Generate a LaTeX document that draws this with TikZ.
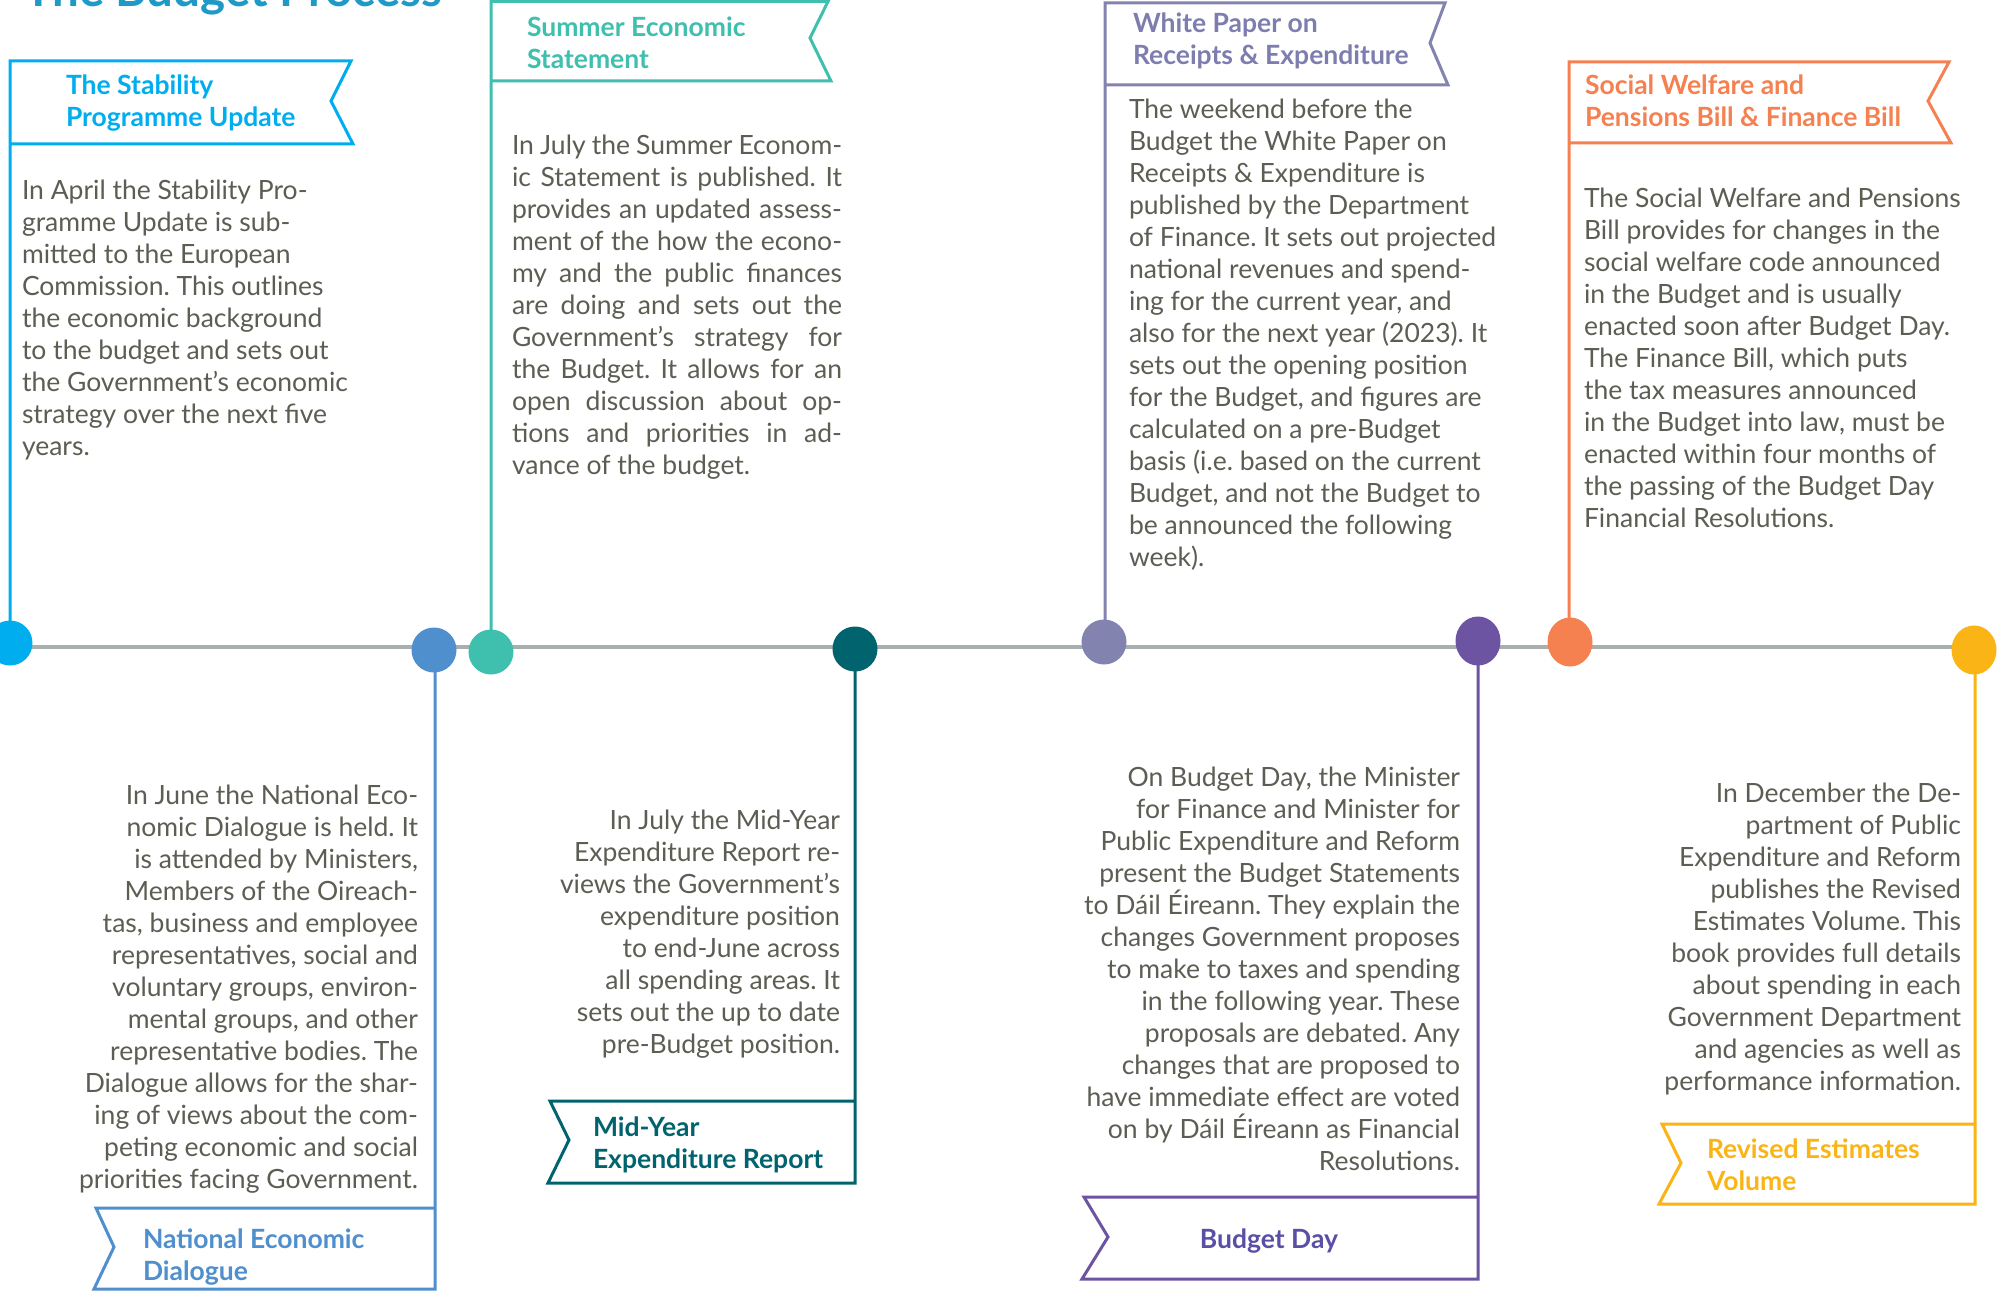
\documentclass[tikz,border=0pt]{standalone}
\usepackage{fontspec}
\setmainfont{Lato}
\definecolor{cStab}{HTML}{00AEEF}
\definecolor{cNed}{HTML}{4F8FCD}
\definecolor{cSum}{HTML}{3FBFAE}
\definecolor{cMid}{HTML}{00636E}
\definecolor{cWp}{HTML}{8383B0}
\definecolor{cWpT}{HTML}{7D7DAF}
\definecolor{cBud}{HTML}{6D54A3}
\definecolor{cBudT}{HTML}{5A4FA5}
\definecolor{cSoc}{HTML}{F58150}
\definecolor{cRev}{HTML}{FBB415}
\definecolor{cTitle}{HTML}{1F99C6}
\definecolor{bodygray}{HTML}{5D5D54}
\definecolor{linegray}{HTML}{A9AEAE}
\newcommand\bodyfnt{\fontsize{26.5}{32}\selectfont\frenchspacing}
\newcommand\headfnt{\fontsize{26.5}{32}\selectfont\bfseries}
\newcommand\jl[1]{\makebox[330pt][s]{#1}}
\tikzset{
  body/.style={inner sep=0pt, outer sep=0pt, font=\bodyfnt, text=bodygray},
  head/.style={inner sep=0pt, outer sep=0pt, font=\headfnt, align=left, text=#1},
  flagline/.style={line width=3pt, line join=miter, draw=#1},
  tdot/.style={circle, minimum size=45pt, inner sep=0pt, fill=#1},
  tell/.style={ellipse, minimum width=45pt, minimum height=49pt, inner sep=0pt, fill=#1},
  timeline/.style={line width=4.5pt, draw=linegray}
}
\usetikzlibrary{shapes.geometric}
\begin{document}
\begin{tikzpicture}[x=1pt,y=-1pt]
\useasboundingbox (0,0) rectangle (1998,1292);
\clip (0,0) rectangle (1998,1292);
\fill[white] (0,0) rectangle (1998,1292);

% title (cut off at top, as in the reference)
\node[inner sep=0pt, anchor=base west, font=\fontsize{47.5}{50}\selectfont\bfseries, text=cTitle] (title) at (24,7) {The Budget Process};

% circle centres
\coordinate (p1) at (10,643);
\coordinate (p2) at (434,650);
\coordinate (p3) at (491,652);
\coordinate (p4) at (855,649);
\coordinate (p5) at (1104,642);
\coordinate (p6) at (1478,641);
\coordinate (p7) at (1570,642);
\coordinate (p8) at (1974,650);

% timeline
\coordinate (tlA) at (0,647);
\coordinate (tlB) at (1974,647);
\draw[timeline] (tlA) -- (tlB);

% top flags
\draw[flagline=cStab] (p1) -- (10,61) -- (351,61) -- (331,101) -- (353,144) -- (10,144);
\draw[flagline=cSum] (p3) -- (491,1.5) -- (828,1.5) -- (810,38) -- (831,81) -- (491,81);
\draw[flagline=cWp] (p5 -| 1105,0) -- (1105,3) -- (1445,3) -- (1430,43) -- (1448,85) -- (1105,85);
\draw[flagline=cSoc] (p7 -| 1569,0) -- (1569,62) -- (1949,62) -- (1928,101) -- (1951,143) -- (1569,143);

% bottom flags
\draw[flagline=cNed] (p2 -| 435,0) -- (435,1289) -- (94,1289) -- (114,1247) -- (96,1208) -- (435,1208);
\draw[flagline=cMid] (p4) -- (855,1183) -- (548,1183) -- (569,1140) -- (550,1101) -- (855,1101);
\draw[flagline=cBud] (p6) -- (1478,1279) -- (1082,1279) -- (1108,1237) -- (1084,1197) -- (1478,1197);
\draw[flagline=cRev] (p8 -| 1975,0) -- (1975,1204) -- (1659,1204) -- (1681,1163) -- (1662,1124) -- (1975,1124);

% dots
\node[tdot=cStab] (c1) at (p1) {};
\node[tdot=cNed] (c2) at (p2) {};
\node[tdot=cSum] (c3) at (p3) {};
\node[tdot=cMid] (c4) at (p4) {};
\node[tdot=cWp] (c5) at (p5) {};
\node[tell=cBud] (c6) at (p6) {};
\node[tell=cSoc] (c7) at (p7) {};
\node[tell=cRev] (c8) at (p8) {};

% headings
\node[head=cStab, anchor=north west] (h1) at (66,72.6) {\strut The Stability\\Programme Update};
\node[head=cSum, anchor=north west] (h3) at (527,14) {\strut Summer Economic\\Statement};
\node[head=cWpT, anchor=north west] (h5) at (1133,10.6) {\strut White Paper on\\Receipts \& Expenditure};
\node[head=cSoc, anchor=north west] (h7) at (1585,72) {\strut Social Welfare and\\Pensions Bill \& Finance Bill};
\node[head=cNed, anchor=north west] (h2) at (143,1226) {\strut National Economic\\Dialogue};
\node[head=cMid, anchor=north west] (h4) at (593,1114) {\strut Mid-Year\\Expenditure Report};
\node[head=cBudT, anchor=base] (h6) at (1269,1248) {Budget Day};
\node[head=cRev, anchor=north west] (h8) at (1707,1136) {\strut Revised Estimates\\Volume};

% body texts
\node[body, align=left, anchor=north west] (b1) at (22,177) {\strut In April the Stability Pro-\\gramme Update is sub-\\mitted to the European\\Commission. This outlines\\the economic background\\to the budget and sets out\\the Government’s economic\\strategy over the next five\\years.};

\node[body, align=left, anchor=north west] (b3) at (512,132) {\strut\jl{In July the Summer Econom-}\\\jl{ic Statement is published. It}\\\jl{provides an updated assess-}\\\jl{ment of the how the econo-}\\\jl{my and the public finances}\\\jl{are doing and sets out the}\\\jl{Government’s strategy for}\\\jl{the Budget. It allows for an}\\\jl{open discussion about op-}\\\jl{tions and priorities in ad-}\\vance of the budget.};

\node[body, align=left, anchor=north west] (b5) at (1129,96) {\strut The weekend before the\\Budget the White Paper on\\Receipts \& Expenditure is\\published by the Department\\of Finance. It sets out projected\\national revenues and spend-\\ing for the current year, and\\also for the next year (2023). It\\sets out the opening position\\for the Budget, and figures are\\calculated on a pre-Budget\\basis (i.e. based on the current\\Budget, and not the Budget to\\be announced the following\\week).};

\node[body, align=left, anchor=north west] (b7) at (1584,185) {\strut The Social Welfare and Pensions\\Bill provides for changes in the\\social welfare code announced\\in the Budget and is usually\\enacted soon after Budget Day.\\The Finance Bill, which puts\\the tax measures announced\\in the Budget into law, must be\\enacted within four months of\\the passing of the Budget Day\\Financial Resolutions.};

\node[body, align=right, anchor=north east] (b2) at (418,782) {\strut In June the National Eco-\\nomic Dialogue is held. It\\is attended by Ministers,\\Members of the Oireach-\\tas, business and employee\\representatives, social and\\voluntary groups, environ-\\mental groups, and other\\representative bodies. The\\Dialogue allows for the shar-\\ing of views about the com-\\peting economic and social\\priorities facing Government.};

\node[body, align=right, anchor=north east] (b4) at (840,807) {\strut In July the Mid-Year\\Expenditure Report re-\\views the Government’s\\expenditure position\\to end-June across\\all spending areas. It\\sets out the up to date\\pre-Budget position.};

\node[body, align=right, anchor=north east] (b6) at (1460,764) {\strut On Budget Day, the Minister\\for Finance and Minister for\\Public Expenditure and Reform\\present the Budget Statements\\to Dáil Éireann. They explain the\\changes Government proposes\\to make to taxes and spending\\in the following year. These\\proposals are debated. Any\\changes that are proposed to\\have immediate effect are voted\\on by Dáil Éireann as Financial\\Resolutions.};

\node[body, align=right, anchor=north east] (b8) at (1961,780) {\strut In December the De-\\partment of Public\\Expenditure and Reform\\publishes the Revised\\Estimates Volume. This\\book provides full details\\about spending in each\\Government Department\\and agencies as well as\\performance information.};
\end{tikzpicture}
\end{document}
